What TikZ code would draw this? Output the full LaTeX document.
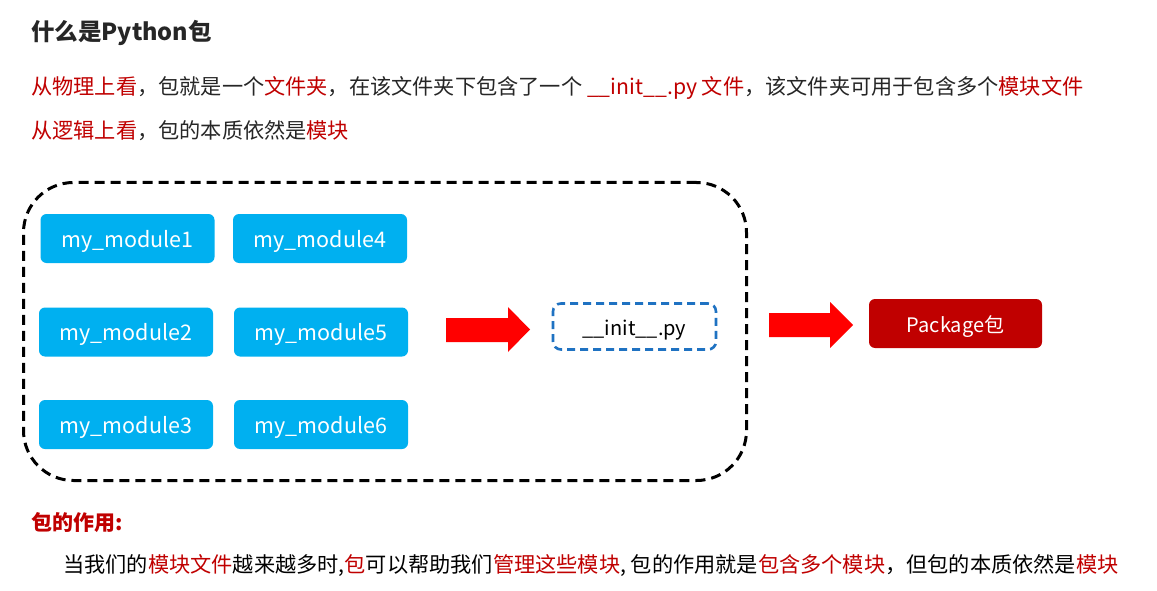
\documentclass[tikz,border=0pt]{standalone}
\usepackage{fontspec}
\setmainfont{Noto Sans CJK SC}
\definecolor{txtgray}{HTML}{262626}
\definecolor{hlred}{HTML}{C00000}
\definecolor{modcyan}{HTML}{00B0F0}
\definecolor{initblue}{HTML}{1F72C2}
\definecolor{pkgred}{HTML}{C00000}
\definecolor{arrred}{HTML}{FF0000}
\newcommand{\rd}[1]{\textcolor{hlred}{#1}}
\tikzset{
  x=1pt, y=-1pt,
  txt/.style={anchor=west, inner sep=0pt, text=txtgray, font=\fontsize{21.2}{25}\selectfont},
  modbox/.style={fill=modcyan, rounded corners=6pt, minimum width=174pt, minimum height=49pt, text=white, inner sep=0pt, text height=20pt, text depth=3pt, font=\fontsize{21.5}{25}\selectfont},
  initbox/.style={draw=initblue, line width=2.6pt, dash pattern=on 8pt off 5pt, rounded corners=8pt, minimum width=163pt, minimum height=46pt, inner sep=0pt, text height=20pt, text depth=3pt, text=black, font=\fontsize{20}{24}\selectfont},
  pkgbox/.style={fill=pkgred, rounded corners=6pt, minimum width=173pt, minimum height=49pt, text=white, inner sep=0pt, text height=21pt, text depth=3pt, font=\fontsize{20}{24}\selectfont},
  bigbox/.style={draw=black, line width=3pt, dash pattern=on 10pt off 6pt, rounded corners=50pt, minimum width=723pt, minimum height=298pt, inner sep=0pt},
  blockarrow/.style={fill=arrred, draw=none}
}
\begin{document}
\begin{tikzpicture}
\useasboundingbox (0,0) rectangle (1157,591);
\fill[white] (0,0) rectangle (1157,591);

% title and description
\node[txt, font=\fontsize{23.5}{28}\selectfont\bfseries, text=txtgray] (title) at (31,33) {什么是Python包};
\node[txt] (line1) at (31,88) {\rd{从物理上看}，包就是一个\rd{文件夹}，在该文件夹下包含了一个 \rd{\_\_init\_\_.py 文件}，该文件夹可用于包含多个\rd{模块文件}};
\node[txt] (line2) at (31,131) {\rd{从逻辑上看}，包的本质依然是\rd{模块}};

% big dashed package box
\node[bigbox] (pkg) at (385,331.5) {};

% modules
\node[modbox] (m1) at (127.5,238.5) {my\_module1};
\node[modbox] (m4) at (320,238.5) {my\_module4};
\node[modbox] (m2) at (126,332) {my\_module2};
\node[modbox] (m5) at (321,332) {my\_module5};
\node[modbox] (m3) at (126,424.5) {my\_module3};
\node[modbox] (m6) at (321,424.5) {my\_module6};

% init file
\node[initbox] (init) at (634.5,326.5) {\_\_init\_\_.py};

% package result
\node[pkgbox] (package) at (955.5,323.5) {Package包};

% block arrows
\fill[blockarrow] (446,318) -- (508,318) -- (508,307) -- (530,329.5) -- (508,352) -- (508,342) -- (446,342) -- cycle;
\fill[blockarrow] (769,313) -- (830,313) -- (830,302) -- (853,325) -- (830,348) -- (830,337) -- (769,337) -- cycle;

% role of package
\node[txt, font=\fontsize{21}{25}\selectfont\bfseries, text=hlred] (roletitle) at (31,523) {包的作用:};
\node[txt, text=black] (roletext) at (63,566) {当我们的\rd{模块文件}越来越多时,\rd{包}可以帮助我们\rd{管理这些模块}, 包的作用就是\rd{包含多个模块}，但包的本质依然是\rd{模块}};
\end{tikzpicture}
\end{document}
